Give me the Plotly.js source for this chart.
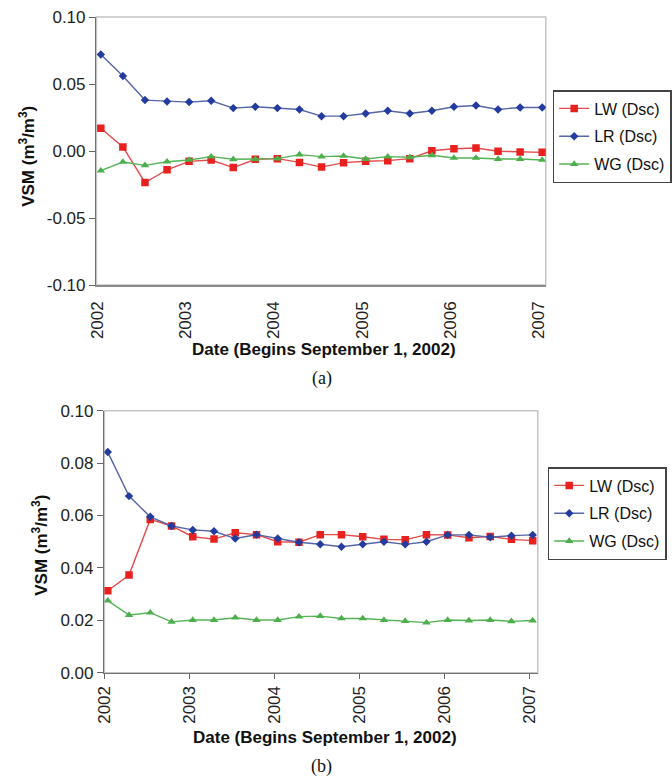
<!DOCTYPE html>
<html>
<head>
<meta charset="utf-8">
<script src="https://cdn.plot.ly/plotly-3.0.1.min.js"></script>
<style>html,body{margin:0;padding:0;background:#fff;}#chart{width:672px;height:776px;}</style>
</head>
<body>
<div id="chart"></div>
<script>
// Quarterly sample positions (years, starting September 2002)
const sampleTimes = [2002.04, 2002.29, 2002.54, 2002.79, 2003.04, 2003.29, 2003.54, 2003.79,
  2004.04, 2004.29, 2004.54, 2004.79, 2005.04, 2005.29, 2005.54, 2005.79,
  2006.04, 2006.29, 2006.54, 2006.79, 2007.04];
const yearTicks = [2002, 2003, 2004, 2005, 2006, 2007];
const yearLabels = ['2002', '2003', '2004', '2005', '2006', '2007'];

// Panel (a)
const lwA = [0.017, 0.003, -0.0235, -0.014, -0.0077, -0.0067, -0.0124, -0.0062, -0.0057, -0.0085,
  -0.012, -0.0087, -0.0077, -0.0072, -0.0057, 0.0002, 0.0017, 0.0022, -0.0002, -0.0007, -0.001];
const lrA = [0.072, 0.056, 0.038, 0.037, 0.0365, 0.0375, 0.032, 0.033, 0.032, 0.031,
  0.026, 0.026, 0.028, 0.030, 0.028, 0.030, 0.033, 0.034, 0.031, 0.0325, 0.0325];
const wgA = [-0.0147, -0.0082, -0.0107, -0.008, -0.0067, -0.0042, -0.0062, -0.0062, -0.0057, -0.0027,
  -0.0042, -0.0037, -0.006, -0.0042, -0.0047, -0.0032, -0.0052, -0.0052, -0.006, -0.006, -0.0067];
const yTicksA = [-0.10, -0.05, 0.00, 0.05, 0.10];
const yLabelsA = ['-0.10', '-0.05', '0.00', '0.05', '0.10'];

// Panel (b)
const lwB = [0.0313, 0.0373, 0.0585, 0.056, 0.0519, 0.051, 0.0534, 0.0527, 0.050, 0.0498,
  0.0527, 0.0527, 0.0519, 0.0509, 0.0507, 0.0527, 0.0526, 0.0515, 0.052, 0.0509, 0.0504];
const lrB = [0.0842, 0.0674, 0.0595, 0.056, 0.0545, 0.054, 0.0512, 0.0527, 0.0512, 0.0498,
  0.049, 0.0481, 0.049, 0.050, 0.049, 0.050, 0.0526, 0.0526, 0.0517, 0.0523, 0.0526];
const wgB = [0.0275, 0.022, 0.0229, 0.0194, 0.0201, 0.0201, 0.021, 0.0201, 0.0201, 0.0214,
  0.0216, 0.0207, 0.0207, 0.0201, 0.0197, 0.0191, 0.0201, 0.0199, 0.0201, 0.0196, 0.0199];
const yTicksB = [0.00, 0.02, 0.04, 0.06, 0.08, 0.10];
const yLabelsB = ['0.00', '0.02', '0.04', '0.06', '0.08', '0.10'];

const seriesNames = ['LW (Dsc)', 'LR (Dsc)', 'WG (Dsc)'];

const styles = [
  {line: '#e34a4a', marker: '#e8211f', symbol: 'square', size: 7.5},
  {line: '#5565a8', marker: '#233c9e', symbol: 'diamond', size: 6.5},
  {line: '#55b455', marker: '#4caf4c', symbol: 'triangle-up', size: 7.5}
];

function mk(yvals, i, xa, ya, legend) {
  const s = styles[i];
  return {
    x: sampleTimes, y: yvals, type: 'scatter', mode: 'lines+markers',
    name: seriesNames[i], xaxis: xa, yaxis: ya, legend: legend,
    legendgroup: legend + i,
    line: {color: s.line, width: 1.4},
    marker: {color: s.marker, symbol: s.symbol, size: s.size, line: {width: 0}},
    hoverinfo: 'x+y'
  };
}

const data = [
  mk(lwA, 0, 'x', 'y', 'legend'),
  mk(lrA, 1, 'x', 'y', 'legend'),
  mk(wgA, 2, 'x', 'y', 'legend'),
  mk(lwB, 0, 'x2', 'y2', 'legend2'),
  mk(lrB, 1, 'x2', 'y2', 'legend2'),
  mk(wgB, 2, 'x2', 'y2', 'legend2')
];

const W = 672, H = 776;
const domA = {x: [97 / W, 549 / W], y: [1 - 285 / H, 1 - 17 / H]};
const domB = {x: [105 / W, 541 / W], y: [1 - 672.7 / H, 1 - 410.7 / H]};
const tickFont = {family: 'Liberation Sans, Arial, sans-serif', size: 17, color: '#222'};
const titleFont = {family: 'Liberation Sans, Arial, sans-serif', size: 17, color: '#111'};
const legFont = {family: 'Liberation Sans, Arial, sans-serif', size: 16, color: '#111'};

const layout = {
  width: W, height: H,
  margin: {l: 0, r: 0, t: 0, b: 0},
  paper_bgcolor: '#fff', plot_bgcolor: '#fff',
  xaxis: {
    domain: domA.x, anchor: 'y', range: [2001.99, 2007.08],
    tickvals: yearTicks, ticktext: yearLabels, tickangle: -90,
    ticks: 'outside', ticklen: 8, tickcolor: 'rgba(0,0,0,0)',
    showline: true, linecolor: '#8a8a8a', linewidth: 1.5,
    showgrid: false, zeroline: false, tickfont: tickFont
  },
  xaxis3: {
    domain: domA.x, anchor: 'free', overlaying: 'x',
    position: (domA.y[0] + domA.y[1]) / 2,
    range: [2001.99, 2007.08], tickvals: yearTicks,
    ticks: 'outside', ticklen: 4, tickcolor: '#666', tickwidth: 1,
    showticklabels: false, showline: true, linecolor: '#707070', linewidth: 1.5,
    showgrid: false, zeroline: false
  },
  yaxis: {
    domain: domA.y, anchor: 'x', range: [-0.1, 0.1],
    tickvals: yTicksA, ticktext: yLabelsA,
    ticks: 'outside', ticklen: 6, tickcolor: '#666',
    showline: true, linecolor: '#707070', linewidth: 1.5,
    showgrid: false, zeroline: false, tickfont: tickFont
  },
  xaxis2: {
    domain: domB.x, anchor: 'y2', range: [2002.0, 2007.1],
    tickvals: yearTicks, ticktext: yearLabels, tickangle: -90,
    ticks: 'outside', ticklen: 5, tickcolor: '#666',
    showline: true, linecolor: '#707070', linewidth: 1.5,
    showgrid: false, zeroline: false, tickfont: tickFont
  },
  yaxis2: {
    domain: domB.y, anchor: 'x2', range: [0, 0.1],
    tickvals: yTicksB, ticktext: yLabelsB,
    ticks: 'outside', ticklen: 6, tickcolor: '#666',
    showline: true, linecolor: '#707070', linewidth: 1.5,
    showgrid: false, zeroline: false, tickfont: tickFont
  },
  legend: {
    x: 556 / W, y: 1 - 90 / H, xanchor: 'left', yanchor: 'top',
    bordercolor: '#444', borderwidth: 1.5, bgcolor: '#fff',
    font: legFont, tracegroupgap: 4
  },
  legend2: {
    x: 551 / W, y: 1 - 467 / H, xanchor: 'left', yanchor: 'top',
    bordercolor: '#444', borderwidth: 1.5, bgcolor: '#fff',
    font: legFont, tracegroupgap: 4
  },
  shapes: [
    {type: 'rect', xref: 'x domain', yref: 'y domain', x0: 0, x1: 1, y0: 0, y1: 1,
      line: {color: '#c4c4c4', width: 1.5}, layer: 'below'},
    {type: 'rect', xref: 'x2 domain', yref: 'y2 domain', x0: 0, x1: 1, y0: 0, y1: 1,
      line: {color: '#c4c4c4', width: 1.5}, layer: 'below'}
  ],
  annotations: [
    {text: '<b>VSM (m<sup>3</sup>/m<sup>3</sup>)</b>', xref: 'paper', yref: 'paper',
      x: 27 / W, y: 1 - 156 / H, textangle: -90, showarrow: false, font: titleFont,
      xanchor: 'center', yanchor: 'middle'},
    {text: '<b>Date (Begins September 1, 2002)</b>', xref: 'paper', yref: 'paper',
      x: 326 / W, y: 1 - 350 / H, showarrow: false, font: titleFont,
      xanchor: 'center', yanchor: 'middle'},
    {text: '(a)', xref: 'paper', yref: 'paper', x: 324 / W, y: 1 - 378 / H, showarrow: false,
      font: {family: 'Liberation Serif, Times New Roman, serif', size: 18, color: '#111'},
      xanchor: 'center', yanchor: 'middle'},
    {text: '<b>VSM (m<sup>3</sup>/m<sup>3</sup>)</b>', xref: 'paper', yref: 'paper',
      x: 40 / W, y: 1 - 545 / H, textangle: -90, showarrow: false, font: titleFont,
      xanchor: 'center', yanchor: 'middle'},
    {text: '<b>Date (Begins September 1, 2002)</b>', xref: 'paper', yref: 'paper',
      x: 327 / W, y: 1 - 737 / H, showarrow: false, font: titleFont,
      xanchor: 'center', yanchor: 'middle'},
    {text: '(b)', xref: 'paper', yref: 'paper', x: 323 / W, y: 1 - 766 / H, showarrow: false,
      font: {family: 'Liberation Serif, Times New Roman, serif', size: 18, color: '#111'},
      xanchor: 'center', yanchor: 'middle'}
  ]
};

Plotly.newPlot('chart', data, layout, {staticPlot: true, displayModeBar: false});
</script>
</body>
</html>
